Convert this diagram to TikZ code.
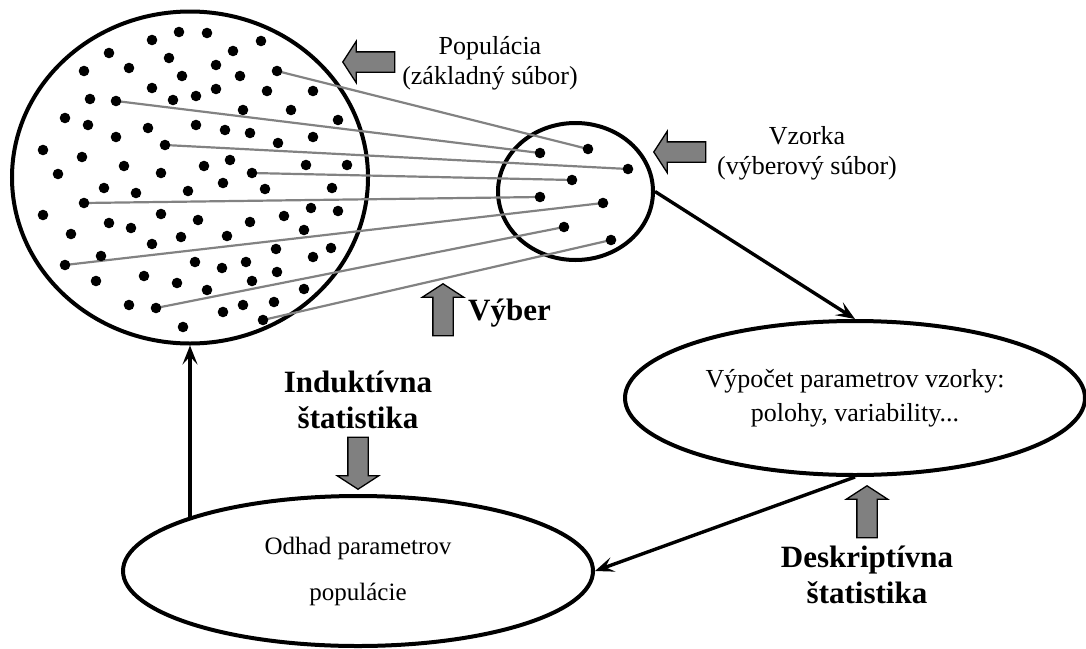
\documentclass[tikz,border=0pt]{standalone}
\usepackage{fontspec}
\setmainfont{Liberation Serif}
\usetikzlibrary{shapes.geometric,shapes.arrows,arrows.meta}
\definecolor{arrgray}{RGB}{128,128,128}
\definecolor{threadgray}{RGB}{130,130,130}
\tikzset{
  oval/.style={ellipse, draw, line width=4pt, inner sep=0pt},
  conn/.style={line width=3.4pt, -{Stealth[length=19pt,width=15pt,inset=8pt]}},
  thread/.style={threadgray, line width=2.2pt},
  blockarr/.style={single arrow, draw, fill=arrgray, line width=1.3pt,
    inner sep=9.5pt, minimum height=52pt,
    single arrow head extend=10.5pt, single arrow tip angle=114, anchor=tip},
  txt/.style={font=\fontsize{26}{30}\selectfont, align=center, inner sep=0pt},
  boldtxt/.style={font=\fontsize{31}{36}\selectfont\bfseries, align=center, inner sep=0pt},
}
\begin{document}
\begin{tikzpicture}[x=1pt, y=-1pt]
\useasboundingbox (0,0) rectangle (1086,648);
% population and sample
\node[oval, minimum width=356pt, minimum height=332pt] (pop) at (190,177.5) {};
\node[oval, minimum width=155pt, minimum height=137pt] (vz) at (575.5,191.5) {};
% units picked into the sample
\foreach \i/\a/\b/\c/\d in {1/277/71/588/149, 2/116/101/540/153, 3/165/145/628/169,
    4/252/173/572/180, 5/84/203/540/197, 6/65/265/603/203, 7/156/308/564/227,
    8/263/320/611/240}{
  \coordinate (p\i) at (\a,\b);
  \coordinate (s\i) at (\c,\d);
  \draw[thread] (p\i) -- (s\i);
  \fill (p\i) circle (5.3pt) (s\i) circle (5.3pt);
}
% the rest of the population
\foreach \x/\y in {152/40, 179/32, 207/33, 261/41, 109/53, 169/58, 233/51, 84/71,
    129/68, 216/65, 182/76, 240/76, 152/88, 216/89, 196/96, 173/100, 267/91, 313/91,
    90/99, 243/110, 291/110, 65/118, 88/125, 148/128, 196/125, 225/130, 250/133,
    338/120, 116/137, 278/143, 313/137, 43/150, 82/157, 230/160, 204/166, 124/166,
    306/165, 347/165, 58/174, 161/173, 223/183, 104/188, 136/193, 188/191, 265/189,
    332/188, 43/215, 161/214, 311/208, 338/211, 284/216, 198/220, 250/222, 109/223,
    131/228, 71/234, 181/237, 227/236, 304/230, 152/244, 276/249, 331/248, 101/256,
    313/257, 195/262, 222/268, 246/262, 277/272, 96/281, 144/276, 177/283, 207/290,
    252/281, 304/289, 129/305, 223/312, 243/305, 274/302, 183/327}
  \fill (\x,\y) circle (5.3pt);
% results
\node[oval, minimum width=460pt, minimum height=154pt, txt, font=\fontsize{26}{34}\selectfont]
  (calc) at (855,398) {Výpočet parametrov vzorky:\\polohy, variability...};
\node[oval, minimum width=470pt, minimum height=150pt, txt, font=\fontsize{25}{46}\selectfont]
  (odhad) at (358,571) {Odhad parametrov\\populácie};
\draw[conn] (vz.east) -- (calc.north);
\draw[conn] (calc.south) -- (odhad.east);
\draw[conn] (pop.south |- odhad.162) -- (pop.south);
% block arrows and labels
\node[blockarr, shape border rotate=180] (poparr) at (342,62) {};
\node[blockarr, shape border rotate=180] (vzarr) at (653,152) {};
\node[blockarr, shape border rotate=90] (vybarr) at (443,283) {};
\node[blockarr, shape border rotate=270] (indarr) at (358,490) {};
\node[blockarr, shape border rotate=90] (desarr) at (867,485) {};
\node[txt] (poplbl) at (490,63) {Populácia\\(základný súbor)};
\node[txt] (vzlbl) at (807,153) {Vzorka\\(výberový súbor)};
\node[boldtxt, anchor=west] (vyblbl) at (468,313) {Výber};
\node[boldtxt] (indlbl) at (358,400) {Induktívna\\štatistika};
\node[boldtxt] (deslbl) at (867,575) {Deskriptívna\\štatistika};
\end{tikzpicture}
\end{document}
